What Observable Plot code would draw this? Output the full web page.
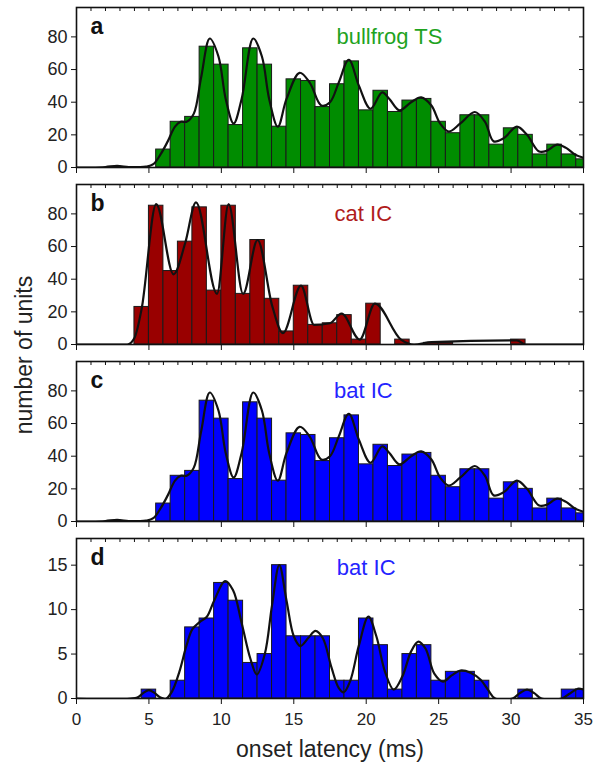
<!DOCTYPE html>
<html><head><meta charset="utf-8">
<script src="https://cdn.jsdelivr.net/npm/d3@7"></script>
<script src="https://cdn.jsdelivr.net/npm/@observablehq/plot@0.6"></script>
<style>
body{margin:0;background:#fff;}
#wrap{position:relative;width:593px;height:763px;font-family:"Liberation Sans",Arial,sans-serif;overflow:hidden;}
#wrap svg{display:block;}
#ylabel{position:absolute;left:24px;top:355px;transform:translate(-50%,-50%) rotate(-90deg);white-space:nowrap;font-size:23px;color:#222;}
</style></head><body>
<div id="wrap"><div id="ylabel">number of units</div></div>
<script>
// ---- panel a: bullfrog TS (1-ms bins, centres) ----
const binsA = [6,7,8,9,10,11,12,13,14,15,16,17,18,19,20,21,22,23,24,25,26,27,28,29,30,31,32,33,34,35];
const valuesA = [11,28,31,74,63,26,73,63,25,54,53,37,51,65,35,47,34,41,42,28,21,32,32,14,24,20,8,14,8,5];
const curveAx = [0,1,2,2.8,3.6,4.3,4.8,5.3,5.8,6.3,6.8,7.2,7.6,8.1,8.6,9.2,9.8,10.3,10.85,11.4,12.2,12.8,13.3,13.9,14.5,15.4,16.1,16.9,17.5,18.1,18.8,19.5,20.3,21.1,21.6,22.3,23.1,23.8,24.5,25.1,25.7,26.5,27.5,28.2,28.8,29.5,30.4,31.1,31.9,32.4,33.2,33.8,34.4,35];
const curveAy = [0,0,0.3,1,0.3,0.2,0.5,2,8,16,25,28,28,33,55,79,68,42,27,42,79,68,42,25,42,58,52,38,40,52,66,50,36,46,42,35,40,43,38,27,22,27,34,28,16,18,25,20,10,10,14,12,8,6];

// ---- panel b: cat IC ----
const binsB = [4.5,5.5,6.5,7.5,8.5,9.5,10.5,11.5,12.5,13.5,14.5,15.5,16.5,17.5,18.5,19.5,20.5,22.5,24.5,25.5,30.5];
const valuesB = [23,85,45,63,84,33,85,31,64,28,8,36,12,13,18,3,25,3,1,1,3];
const curveBx = [0,3.5,4.0,4.5,5.5,6.7,7.5,8.25,9.7,10.5,11.5,12.5,13.5,14.25,15.5,16.4,17.5,18.3,19.55,20.6,22.4,23.3,24.5,30.4,31.0,35];
const curveBy = [0,0,4,22,86,43,62,87,31,86,31,64,24,7,36,12,13,19,3,25,3,0,1.5,2.5,0,0];

// ---- panel c: bat IC (same distribution as a) ----
const binsC = binsA;
const valuesC = valuesA;
const curveCx = curveAx;
const curveCy = curveAy;

// ---- panel d: bat IC ----
const binsD = [5,7,8,9,10,11,12,13,14,15,16,17,18,19,20,21,22,23,24,25,26,27,28,31,34,35];
const valuesD = [1,2,8,9,13,11,4,5,15,7,7,7,2,2,9,6,1,5,6,2,3,3,2,1,1,1];
const curveDx = [0,3.7,4.2,4.6,5.0,5.4,5.8,6.2,6.6,7.1,7.6,8.0,8.5,9.0,9.5,10.25,10.8,11.4,12.0,12.45,13.0,13.5,14.0,14.5,15.0,15.45,16.0,16.5,17.0,17.6,18.1,18.45,18.9,19.5,20.15,20.7,21.3,21.9,22.5,23.1,23.6,24.1,24.7,25.3,25.9,26.5,27.2,27.9,28.4,28.9,30.1,30.6,31.1,31.6,32.1,33.5,34.0,34.6,35];
const curveDy = [0,0,0.1,0.6,0.95,0.6,0.1,0,0.8,3,6,7.8,8.6,9.2,11,13.2,12.2,8.5,4.5,2.7,5,10.5,15,11,7,5.9,6.8,7.6,6.8,3.5,1.2,0.7,2,6,9.2,7,3,1,2.5,5.3,6.4,5.6,2.8,1.9,2.6,3.15,2.9,2.1,1,0,0,0.6,1,0.6,0,0,0.5,1.1,1];

const xTicksMajor = [0,5,10,15,20,25,30,35];
const xTicksMinor = d3.range(0,36,1);
const yTicksABC = [0,20,40,60,80];
const yTicksD = [0,5,10,15];

function panel(o) {
  const bars = o.bins.map((c,i)=>({x1:c-0.5,x2:c+0.5,y:o.values[i]}));
  const curve = o.cx.map((x,i)=>({x, y:o.cy[i]}));
  const marks = [
    Plot.rectY(bars,{x1:"x1",x2:"x2",y:"y",fill:o.fill,stroke:"#1a1a1a",strokeWidth:1,clip:true}),
    Plot.line(curve,{x:"x",y:"y",curve:o.curve,stroke:"#111",strokeWidth:2.2,clip:true}),
    Plot.frame({stroke:"#111",strokeWidth:1.6}),
    Plot.axisY({anchor:"left",ticks:o.yTicks,tickSize:5,tickPadding:4,label:null,stroke:"#111",fill:"#222"}),
    Plot.axisY({anchor:"right",ticks:o.yTicks,tickSize:-5,tickFormat:()=>"",label:null,stroke:"#111"}),
    Plot.axisX({anchor:"top",ticks:xTicksMinor,tickSize:-3,tickFormat:()=>"",label:null,stroke:"#111"}),
    Plot.axisX({anchor:"bottom",ticks:xTicksMajor,tickSize:6,tickPadding:8,tickFormat:o.last?(d=>d):(()=>""),label:null,stroke:"#111",fill:"#222",fontSize:17}),
    Plot.text([o.letter],{frameAnchor:"top-left",dx:14,dy:26,lineAnchor:"bottom",textAnchor:"start",fontWeight:"bold",fontSize:23,fill:"#111"}),
    Plot.text([o.label],{x:o.labelX,frameAnchor:"top",dy:36,lineAnchor:"bottom",fontSize:22,fill:o.labelColor})
  ];
  if (o.last) marks.push(Plot.text(["onset latency (ms)"],{frameAnchor:"bottom",dy:58,lineAnchor:"bottom",fontSize:23,fill:"#222"}));
  return Plot.plot({
    width:593, height:o.last?232:177,
    marginLeft:76, marginRight:10, marginTop:7, marginBottom:o.last?65:10,
    style:{fontFamily:"Liberation Sans, Arial, sans-serif",fontSize:"18px",background:"white",color:"#222"},
    x:{domain:[0,35]}, y:{domain:[0,o.yMax]},
    marks
  });
}

const wrap = document.getElementById("wrap");
wrap.appendChild(panel({bins:binsA,values:valuesA,cx:curveAx,cy:curveAy,curve:"catmull-rom",fill:"#008c00",yMax:98,yTicks:yTicksABC,letter:"a",label:"bullfrog TS",labelColor:"#1fa31f",labelX:21.6}));
wrap.appendChild(panel({bins:binsB,values:valuesB,cx:curveBx,cy:curveBy,curve:"monotone-x",fill:"#990000",yMax:98,yTicks:yTicksABC,letter:"b",label:"cat IC",labelColor:"#b01c1c",labelX:19.8}));
wrap.appendChild(panel({bins:binsC,values:valuesC,cx:curveCx,cy:curveCy,curve:"catmull-rom",fill:"#0000ff",yMax:98,yTicks:yTicksABC,letter:"c",label:"bat IC",labelColor:"#2424ff",labelX:19.8}));
wrap.appendChild(panel({bins:binsD,values:valuesD,cx:curveDx,cy:curveDy,curve:"catmull-rom",fill:"#0000ff",yMax:18,yTicks:yTicksD,letter:"d",label:"bat IC",labelColor:"#2424ff",labelX:20.0,last:true}));
</script>
</body></html>
